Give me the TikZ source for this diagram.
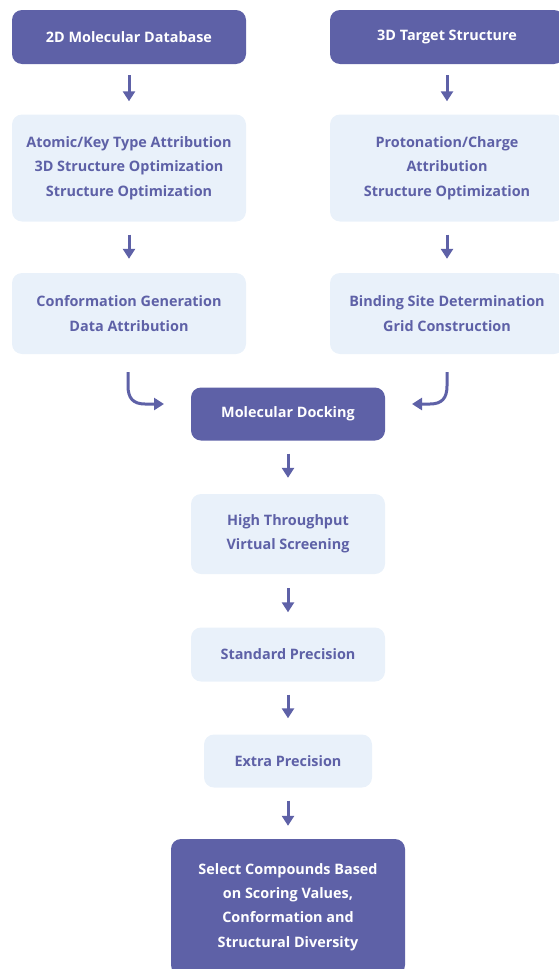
\documentclass[tikz,border=0pt]{standalone}
\usepackage{fontspec}
\setmainfont{Open Sans}
\usetikzlibrary{arrows.meta}
\definecolor{dark}{HTML}{5E61A7}
\definecolor{light}{HTML}{E9F1FA}
\begin{document}
\begin{tikzpicture}[x=1pt,y=-1pt,
  base/.style={rounded corners=10pt, inner sep=0pt, align=center,
    font=\fontsize{14.4}{24.3}\selectfont\bfseries},
  darkbox/.style={base, fill=dark, text=white},
  lightbox/.style={base, fill=light, text=dark},
  arr/.style={draw=dark, line width=3pt, -{Triangle[length=10pt,width=12pt]}},
]
\useasboundingbox (0,0) rectangle (558,969);
% boxes
\node[darkbox, minimum width=234pt, minimum height=54pt] (A) at (129,37) {2D Molecular Database};
\node[darkbox, minimum width=234pt, minimum height=54pt] (B) at (447,37) {3D Target Structure};
\node[lightbox, minimum width=234pt, minimum height=107pt] (C) at (129,168) {Atomic/Key Type Attribution\\3D Structure Optimization\\Structure Optimization};
\node[lightbox, minimum width=234pt, minimum height=107pt] (D) at (447,168) {Protonation/Charge\\Attribution\\Structure Optimization};
\node[lightbox, minimum width=234pt, minimum height=81pt] (E) at (129,313.5) {Conformation Generation\\Data Attribution};
\node[lightbox, minimum width=234pt, minimum height=81pt] (F) at (447,313.5) {Binding Site Determination\\Grid Construction};
\node[darkbox, minimum width=194pt, minimum height=53pt] (G) at (288,414) {Molecular Docking};
\node[lightbox, minimum width=194pt, minimum height=80pt] (H) at (288,534) {High Throughput\\Virtual Screening};
\node[lightbox, minimum width=194pt, minimum height=54pt] (I) at (288,654.5) {Standard Precision};
\node[lightbox, minimum width=168pt, minimum height=53pt] (J) at (288,761) {Extra Precision};
\node[darkbox, minimum width=234pt, minimum height=136pt] (K) at (288,907) {Select Compounds Based\\on Scoring Values,\\Conformation and\\Structural Diversity};
% straight arrows
\draw[arr] ([yshift=-11pt]A.south) -- ([yshift=13pt]C.north);
\draw[arr] ([yshift=-11pt]B.south) -- ([yshift=13pt]D.north);
\draw[arr] ([yshift=-13pt]C.south) -- ([yshift=14pt]E.north);
\draw[arr] ([yshift=-13pt]D.south) -- ([yshift=14pt]F.north);
\draw[arr] ([yshift=-13pt]G.south) -- ([yshift=16pt]H.north);
\draw[arr] ([yshift=-14pt]H.south) -- ([yshift=15pt]I.north);
\draw[arr] ([yshift=-13pt]I.south) -- ([yshift=16pt]J.north);
\draw[arr] ([yshift=-13pt]J.south) -- ([yshift=13pt]K.north);
% curved arrows
\coordinate (e1) at (128,372);
\coordinate (g1) at (164,404);
\draw[arr] (e1) -- (128,386) .. controls (128,398) and (133,404) .. (145,404) -- (g1);
\coordinate (f1) at (447,372);
\coordinate (g2) at (412,404);
\draw[arr] (f1) -- (447,386) .. controls (447,398) and (442,404) .. (430,404) -- (g2);
\end{tikzpicture}
\end{document}
